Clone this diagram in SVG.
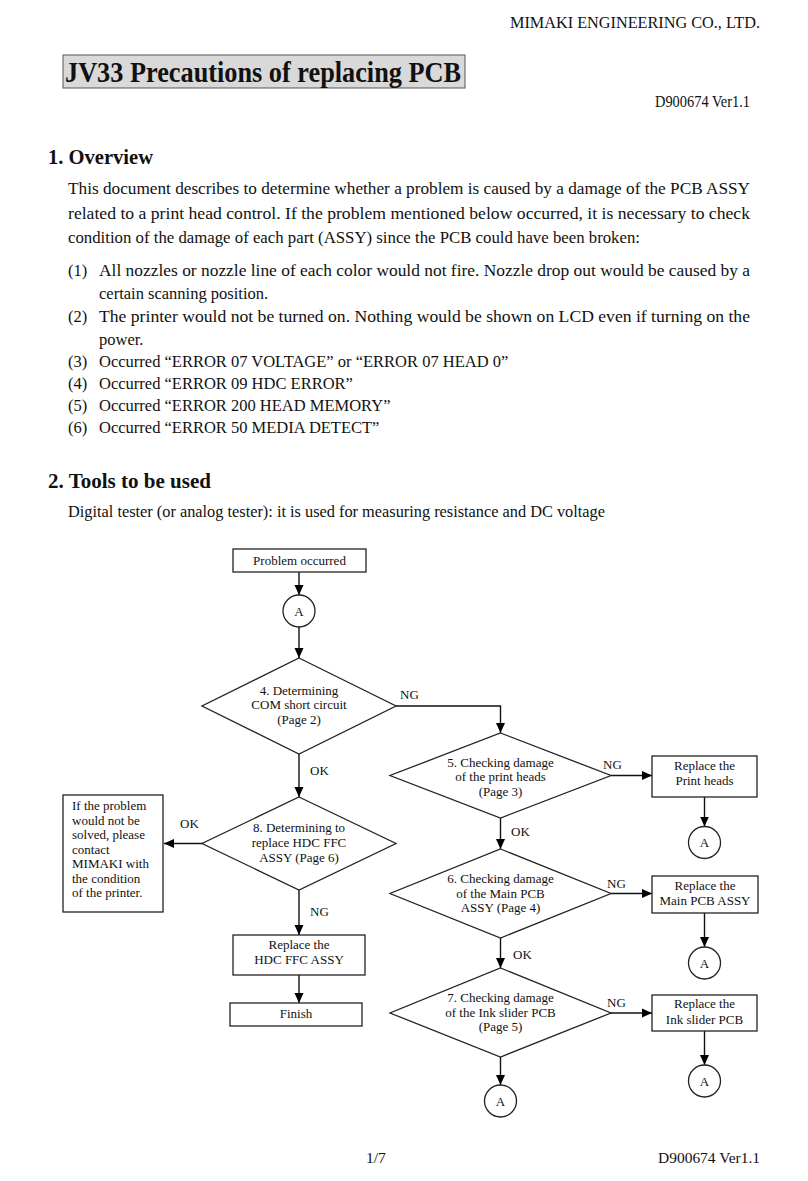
<svg xmlns="http://www.w3.org/2000/svg" width="808" height="1181" viewBox="0 0 808 1181">
<defs>
<marker id="arr" markerWidth="11" markerHeight="11" refX="10" refY="5.5" orient="auto" markerUnits="userSpaceOnUse">
<path d="M0,1 L10,5.5 L0,10 Z" fill="#000"/>
</marker>
<style>
text{font-family:"Liberation Serif","Times New Roman",serif;fill:#111}
.hd{font-size:16px}
.title{font-size:29px;font-weight:bold}
.h1{font-size:21px;font-weight:bold}
.body{font-size:16.5px}
.fc{font-size:13px;text-anchor:middle}
.lbl{font-size:13px}
.lt{font-size:13px}
.shape{fill:#fff;stroke:#222;stroke-width:1.3}
.con{fill:none;stroke:#111;stroke-width:1.4}
.arrow{marker-end:url(#arr)}
</style>
</defs>
<rect width="808" height="1181" fill="#fff"/>
<!-- page header -->
<text class="hd" x="760" y="28" text-anchor="end" textLength="250" lengthAdjust="spacingAndGlyphs">MIMAKI  ENGINEERING  CO.,  LTD.</text>
<rect x="63" y="55" width="402" height="33" fill="#d9d9d9" stroke="#555" stroke-width="1"/>
<text class="title" x="65" y="82" textLength="396" lengthAdjust="spacingAndGlyphs">JV33 Precautions of replacing PCB</text>
<text class="hd" x="750" y="107" text-anchor="end" textLength="95" lengthAdjust="spacingAndGlyphs">D900674 Ver1.1</text>
<!-- section 1 -->
<text class="h1" x="48" y="164" textLength="105" lengthAdjust="spacingAndGlyphs">1. Overview</text>
<text class="body" x="68" y="194" textLength="682" lengthAdjust="spacingAndGlyphs">This document describes to determine whether a problem is caused by a damage of the PCB ASSY</text>
<text class="body" x="68" y="219" textLength="682" lengthAdjust="spacingAndGlyphs">related to a print head control. If the problem mentioned below occurred, it is necessary to check</text>
<text class="body" x="68" y="243" textLength="572" lengthAdjust="spacingAndGlyphs">condition of the damage of each part (ASSY) since the PCB could have been broken:</text>
<text class="body" x="68" y="276">(1)</text>
<text class="body" x="99" y="276" textLength="651" lengthAdjust="spacingAndGlyphs">All nozzles or nozzle line of each color would not fire. Nozzle drop out would be caused by a</text>
<text class="body" x="99" y="299">certain scanning position.</text>
<text class="body" x="68" y="322">(2)</text>
<text class="body" x="99" y="322" textLength="651" lengthAdjust="spacingAndGlyphs">The printer would not be turned on. Nothing would be shown on LCD even if turning on the</text>
<text class="body" x="99" y="345">power.</text>
<text class="body" x="68" y="367">(3)</text>
<text class="body" x="99" y="367">Occurred “ERROR 07 VOLTAGE” or “ERROR 07 HEAD 0”</text>
<text class="body" x="68" y="389">(4)</text>
<text class="body" x="99" y="389">Occurred “ERROR 09 HDC ERROR”</text>
<text class="body" x="68" y="411">(5)</text>
<text class="body" x="99" y="411">Occurred “ERROR 200 HEAD MEMORY”</text>
<text class="body" x="68" y="433">(6)</text>
<text class="body" x="99" y="433">Occurred “ERROR 50 MEDIA DETECT”</text>
<!-- section 2 -->
<text class="h1" x="48" y="488" textLength="163" lengthAdjust="spacingAndGlyphs">2. Tools to be used</text>
<text class="body" x="68" y="517" textLength="537" lengthAdjust="spacingAndGlyphs">Digital tester (or analog tester): it is used for measuring resistance and DC voltage</text>

<!-- connectors -->
<g id="connectors">
<line class="con arrow" x1="299" y1="572" x2="299" y2="595"/>
<line class="con arrow" x1="299" y1="627" x2="299" y2="658"/>
<polyline class="con arrow" points="396,706 500.5,706 500.5,733"/>
<line class="con arrow" x1="299" y1="754" x2="299" y2="797"/>
<line class="con arrow" x1="202" y1="843.5" x2="164" y2="843.5"/>
<line class="con arrow" x1="299" y1="890" x2="299" y2="935"/>
<line class="con arrow" x1="299" y1="975" x2="299" y2="1003"/>
<line class="con arrow" x1="611" y1="775.5" x2="652" y2="775.5"/>
<line class="con arrow" x1="704.5" y1="797" x2="704.5" y2="826.5"/>
<line class="con arrow" x1="500.5" y1="818" x2="500.5" y2="849"/>
<line class="con arrow" x1="611" y1="893.5" x2="652" y2="893.5"/>
<line class="con arrow" x1="704.5" y1="913" x2="704.5" y2="947"/>
<line class="con arrow" x1="500.5" y1="938" x2="500.5" y2="968"/>
<line class="con arrow" x1="611" y1="1013" x2="652" y2="1013"/>
<line class="con arrow" x1="704.5" y1="1031" x2="704.5" y2="1065"/>
<line class="con arrow" x1="500.5" y1="1057" x2="500.5" y2="1085"/>
<text class="lbl" x="400" y="699">NG</text>
<text class="lbl" x="310" y="775">OK</text>
<text class="lbl" x="603" y="769">NG</text>
<text class="lbl" x="511" y="836">OK</text>
<text class="lbl" x="607" y="888">NG</text>
<text class="lbl" x="513" y="959">OK</text>
<text class="lbl" x="607" y="1007">NG</text>
<text class="lbl" x="180" y="828">OK</text>
<text class="lbl" x="310" y="916">NG</text>
</g>

<!-- nodes -->
<g id="start">
<rect class="shape" x="233" y="549" width="133" height="23"/>
<text class="fc" x="299.5" y="565">Problem occurred</text>
</g>
<g id="circleA1">
<circle class="shape" cx="299" cy="611" r="16"/>
<text class="fc" x="299" y="615.5">A</text>
</g>
<g id="d4">
<polygon class="shape" points="299,658 396,706 299,754 202,706"/>
<text class="fc" x="299" y="695">4. Determining</text>
<text class="fc" x="299" y="709">COM short circuit</text>
<text class="fc" x="299" y="724">(Page 2)</text>
</g>
<g id="d8">
<polygon class="shape" points="299,797 396,843.5 299,890 202,843.5"/>
<text class="fc" x="299" y="832">8. Determining to</text>
<text class="fc" x="299" y="847">replace HDC FFC</text>
<text class="fc" x="299" y="862">ASSY (Page 6)</text>
</g>
<g id="contact">
<rect class="shape" x="63" y="795" width="100" height="117"/>
<text class="lt" x="72" y="810">If the problem</text>
<text class="lt" x="72" y="824.5">would not be</text>
<text class="lt" x="72" y="839">solved, please</text>
<text class="lt" x="72" y="853.5">contact</text>
<text class="lt" x="72" y="868">MIMAKI with</text>
<text class="lt" x="72" y="882.5">the condition</text>
<text class="lt" x="72" y="897">of the printer.</text>
</g>
<g id="hdc">
<rect class="shape" x="233" y="935" width="132" height="40"/>
<text class="fc" x="299" y="948.5">Replace the</text>
<text class="fc" x="299" y="963.5">HDC FFC ASSY</text>
</g>
<g id="finish">
<rect class="shape" x="230" y="1003" width="132" height="23"/>
<text class="fc" x="296" y="1017.5">Finish</text>
</g>
<g id="d5">
<polygon class="shape" points="500.5,733 611,775.5 500.5,818 390,775.5"/>
<text class="fc" x="500.5" y="767">5. Checking damage</text>
<text class="fc" x="500.5" y="781">of the print heads</text>
<text class="fc" x="500.5" y="796">(Page 3)</text>
</g>
<g id="printheads">
<rect class="shape" x="652" y="756" width="105" height="41"/>
<text class="fc" x="704.5" y="769.5">Replace the</text>
<text class="fc" x="704.5" y="784.5">Print heads</text>
</g>
<g id="circleA2">
<circle class="shape" cx="704.5" cy="842.5" r="16"/>
<text class="fc" x="704.5" y="847">A</text>
</g>
<g id="d6">
<polygon class="shape" points="500.5,849 611,893.5 500.5,938 390,893.5"/>
<text class="fc" x="500.5" y="883">6. Checking damage</text>
<text class="fc" x="500.5" y="898">of the Main PCB</text>
<text class="fc" x="500.5" y="912">ASSY (Page 4)</text>
</g>
<g id="mainpcb">
<rect class="shape" x="652" y="876" width="106" height="37"/>
<text class="fc" x="705" y="889.5">Replace the</text>
<text class="fc" x="705" y="904.5">Main PCB ASSY</text>
</g>
<g id="circleA3">
<circle class="shape" cx="704.5" cy="963" r="16"/>
<text class="fc" x="704.5" y="967.5">A</text>
</g>
<g id="d7">
<polygon class="shape" points="500.5,968 611,1013 500.5,1057 390,1013"/>
<text class="fc" x="500.5" y="1002">7. Checking damage</text>
<text class="fc" x="500.5" y="1017">of the Ink slider PCB</text>
<text class="fc" x="500.5" y="1031">(Page 5)</text>
</g>
<g id="inkslider">
<rect class="shape" x="652" y="995" width="105" height="36"/>
<text class="fc" x="704.5" y="1008">Replace the</text>
<text class="fc" x="704.5" y="1023.5">Ink slider PCB</text>
</g>
<g id="circleA4">
<circle class="shape" cx="704.5" cy="1081" r="16"/>
<text class="fc" x="704.5" y="1085.5">A</text>
</g>
<g id="circleA5">
<circle class="shape" cx="500.5" cy="1101" r="16"/>
<text class="fc" x="500.5" y="1105.5">A</text>
</g>
<!-- footer -->
<text class="body" x="366" y="1163" style="font-size:15.5px">1/7</text>
<text class="body" x="760" y="1163" text-anchor="end" style="font-size:15.5px" textLength="102" lengthAdjust="spacingAndGlyphs">D900674 Ver1.1</text>
</svg>
